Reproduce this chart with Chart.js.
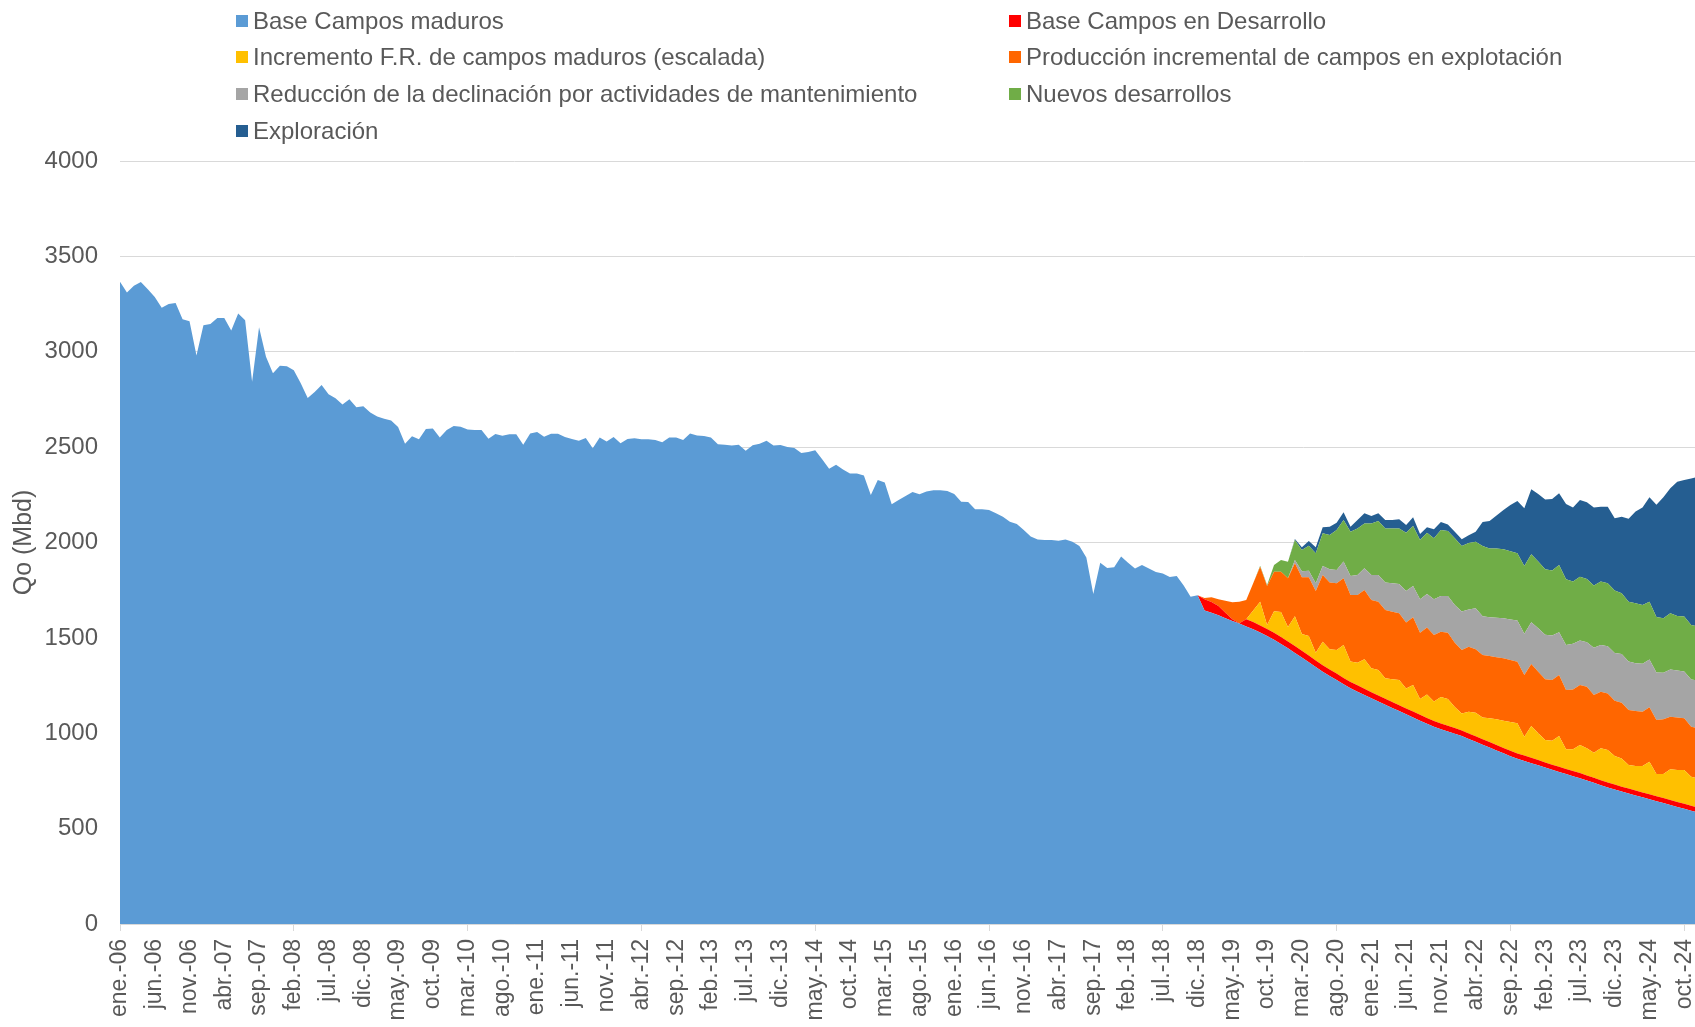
<!DOCTYPE html>
<html lang="es">
<head>
  <meta charset="UTF-8" />
  <title>Pronóstico de producción Qo</title>
  <script src="https://cdn.jsdelivr.net/npm/chart.js"></script>
  <style>
    html, body { margin: 0; padding: 0; background: #fff; overflow: hidden; }
    #wrap { position: relative; width: 1720px; height: 1027px; }
    #leyenda { position: absolute; left: 0; top: 0; }
    .item {
      position: absolute; height: 28px; display: flex; align-items: center;
      font-family: 'Liberation Sans', Arial, sans-serif; font-size: 24px;
      color: #595959; white-space: nowrap;
    }
    .item i { display: inline-block; width: 12px; height: 12px; margin-right: 5px; }
  </style>
</head>
<body>
  <div id="wrap">
    <canvas id="grafico" width="1720" height="1027"></canvas>
    <div id="leyenda"></div>
  </div>

  <script>
    // Meses ene-06 .. dic-24
    const meses = ['ene.', 'feb.', 'mar.', 'abr.', 'may.', 'jun.', 'jul.', 'ago.', 'sep.', 'oct.', 'nov.', 'dic.'];
    const anios = ['06', '07', '08', '09', '10', '11', '12', '13', '14', '15', '16', '17', '18', '19', '20', '21', '22', '23', '24'];
    const etiquetas = [];
    anios.forEach(a => meses.forEach(m => etiquetas.push(m + '-' + a)));

    const ticksY = [0, 500, 1000, 1500, 2000, 2500, 3000, 3500, 4000];

    // Producción real (ene-06 .. dic-18)
    const baseHistorica = [
      3367, 3311, 3346, 3366, 3327, 3287, 3231, 3250, 3256, 3170,
      3160, 2980, 3139, 3146, 3177, 3177, 3112, 3200, 3165, 2843,
      3128, 2974, 2887, 2927, 2924, 2903, 2835, 2757, 2789, 2826,
      2777, 2756, 2723, 2751, 2709, 2714, 2681, 2660, 2649, 2639,
      2605, 2518, 2557, 2541, 2595, 2597, 2551, 2590, 2611, 2607,
      2593, 2590, 2590, 2544, 2569, 2560, 2567, 2567, 2513, 2571,
      2579, 2555, 2570, 2570, 2553, 2543, 2534, 2548, 2494, 2551,
      2530, 2553, 2520, 2543, 2546, 2541, 2541, 2537, 2525, 2550,
      2550, 2537, 2572, 2561, 2558, 2551, 2515, 2513, 2508, 2513,
      2481, 2510, 2518, 2534, 2508, 2511, 2501, 2496, 2469, 2474,
      2483, 2436, 2387, 2407, 2383, 2362, 2362, 2351, 2249, 2328,
      2314, 2201, 2223, 2244, 2265, 2253, 2267, 2274, 2274, 2270,
      2254, 2214, 2212, 2174, 2174, 2170, 2153, 2135, 2109, 2097,
      2066, 2032, 2016, 2013, 2013, 2009, 2016, 2004, 1982, 1922,
      1730, 1894, 1866, 1870, 1926, 1894, 1864, 1882, 1864, 1845,
      1838, 1819, 1824, 1775, 1715, 1723
    ];

    // Base campos maduros pronosticada (ene-19 .. dic-24)
    const baseProyectada = [
      1643, 1632, 1618, 1603, 1589, 1575, 1560, 1545, 1528, 1510,
      1490, 1468, 1445, 1421, 1397, 1372, 1347, 1323, 1300, 1279,
      1257, 1236, 1218, 1200, 1183, 1166, 1149, 1132, 1116, 1099,
      1083, 1066, 1050, 1034, 1021, 1009, 997, 985, 970, 955,
      940, 925, 910, 895, 880, 866, 855, 843, 832, 820,
      808, 797, 786, 775, 764, 752, 740, 728, 716, 705,
      694, 684, 674, 664, 654, 644, 634, 624, 614, 604,
      594, 584
    ];

    // Series de pronóstico a partir de dic-18
    const inicioPronostico = 155;

    const desarrollo = [
      0, 59, 56, 49, 29, 8, 2,
      38, 38, 37, 37, 37, 36, 36, 36, 35, 35,
      35, 34, 34, 34, 33, 33, 33, 33, 32, 32,
      32, 32, 31, 31, 31, 31, 30, 30, 30, 30,
      30, 29, 29, 29, 29, 29, 29, 28, 28, 28,
      28, 28, 28, 27, 27, 27, 27, 27, 27, 27,
      27, 26, 26, 26, 26, 26, 26, 26, 26, 26,
      26, 26, 26, 26, 26, 26
    ];

    const incrementoFR = [
      0, 0, 0, 0, 0, 0, 0,
      0, 61, 125, 20, 113, 131, 76, 156, 88, 103,
      40, 123, 106, 123, 173, 107, 119, 155, 126, 134,
      107, 119, 132, 105, 139, 83, 123, 102, 139, 141,
      110, 90, 114, 124, 114, 124, 134, 143, 151, 158,
      99, 167, 140, 118, 126, 162, 103, 114, 148, 142,
      131, 167, 170, 150, 148, 124, 128, 138, 171, 116,
      126, 161, 167, 177, 152, 153
    ];

    const incremental = [
      0, 7, 25, 35, 62, 90, 112,
      101, 142, 183, 205, 207, 212, 255, 278, 298, 308,
      324, 350, 350, 350, 349, 349, 355, 363, 358, 358,
      358, 354, 350, 345, 355, 347, 352, 349, 342, 347,
      338, 333, 341, 332, 327, 327, 325, 327, 325, 323,
      324, 325, 323, 318, 318, 320, 311, 314, 314, 323,
      303, 297, 297, 290, 292, 288, 289, 285, 285, 284,
      287, 276, 276, 271, 262, 263
    ];

    const mantenimiento = [
      0, 0, 0, 0, 0, 0, 0,
      0, 0, 0, 0, 0, 0, 0, 17, 31, 34,
      40, 47, 70, 70, 88, 100, 105, 114, 131, 140,
      144, 149, 153, 166, 164, 175, 175, 187, 188, 193,
      198, 201, 195, 215, 203, 203, 208, 210, 212, 216,
      215, 219, 228, 233, 233, 224, 236, 239, 233, 233,
      247, 245, 247, 250, 256, 254, 250, 251, 250, 248,
      244, 247, 246, 246, 248, 251
    ];

    const nuevos = [
      0, 0, 0, 0, 0, 0, 0,
      0, 0, 5, 5, 35, 61, 87, 105, 112, 131,
      157, 171, 179, 210, 218, 232, 244, 235, 270, 283,
      284, 288, 292, 305, 314, 311, 321, 320, 346, 340,
      349, 344, 349, 349, 369, 361, 362, 361, 358, 352,
      356, 356, 349, 344, 341, 352, 344, 326, 335, 332,
      326, 332, 330, 327, 318, 314, 314, 309, 304, 291,
      286, 295, 286, 288, 286, 282
    ];

    const exploracion = [
      0, 0, 0, 0, 0, 0, 0,
      0, 0, 0, 0, 0, 0, 0, 5, 14, 25,
      32, 32, 44, 38, 40, 26, 44, 53, 39, 40,
      44, 44, 48, 41, 46, 32, 29, 47, 41, 35,
      35, 35, 40, 53, 125, 144, 173, 206, 243, 275,
      302, 341, 354, 366, 375, 376, 395, 389, 402, 402,
      409, 393, 402, 379, 401, 435, 481, 510, 547, 589,
      634, 655, 704, 716, 768, 786
    ];

    const n = etiquetas.length;
    function completar(serie) {
      const s = new Array(inicioPronostico).fill(0).concat(serie);
      if (s.length !== n) throw new Error('longitud ' + s.length + ' != ' + n);
      return s;
    }
    const base = baseHistorica.concat(baseProyectada);
    if (base.length !== n) throw new Error('base ' + base.length);

    const series = [
      { label: 'Base Campos maduros', data: base, color: '#5B9BD5' },
      { label: 'Base Campos en Desarrollo', data: completar(desarrollo), color: '#FF0000' },
      { label: 'Incremento F.R. de campos maduros (escalada)', data: completar(incrementoFR), color: '#FFC000' },
      { label: 'Producción incremental de campos en explotación', data: completar(incremental), color: '#FF6600' },
      { label: 'Reducción de la declinación por actividades de mantenimiento', data: completar(mantenimiento), color: '#A5A5A5' },
      { label: 'Nuevos desarrollos', data: completar(nuevos), color: '#70AD47' },
      { label: 'Exploración', data: completar(exploracion), color: '#255E91' }
    ];

    Chart.defaults.font.family = "'Liberation Sans', Arial, sans-serif";
    Chart.defaults.color = '#595959';

    const chart = new Chart(document.getElementById('grafico'), {
      type: 'line',
      data: {
        labels: etiquetas,
        datasets: series.map((s, i) => ({
          label: s.label,
          data: s.data,
          backgroundColor: s.color,
          borderWidth: 0,
          pointRadius: 0,
          fill: i === 0 ? 'origin' : '-1'
        }))
      },
      options: {
        responsive: false,
        animation: false,
        layout: { padding: { top: 161, right: 20, left: 0, bottom: 0 } },
        plugins: { legend: { display: false }, tooltip: { enabled: false } },
        scales: {
          x: {
            grid: {
              drawOnChartArea: false,
              tickLength: 7,
              color: c => (c.index % 5 === 0 ? '#D9D9D9' : 'rgba(0,0,0,0)')
            },
            border: { color: '#D9D9D9' },
            ticks: {
              autoSkip: false,
              maxRotation: 90,
              minRotation: 90,
              padding: 8,
              font: { size: 23 },
              callback: (v, i) => (i % 5 === 0 ? etiquetas[i] : null)
            },
            afterFit: s => { s.height = 103; }
          },
          y: {
            stacked: true,
            min: 0,
            max: 4000,
            afterBuildTicks: s => { s.ticks = ticksY.map(v => ({ value: v })); },
            grid: { color: '#D9D9D9', drawTicks: false },
            border: { display: false },
            ticks: { padding: 22, font: { size: 24 }, callback: v => String(v) },
            title: {
              display: true,
              text: 'Qo (Mbd)',
              font: { size: 25 },
              padding: { top: 9, bottom: 0 }
            },
            afterFit: s => { s.width = 120; }
          }
        }
      }
    });

    // Leyenda en dos columnas
    const leyenda = document.getElementById('leyenda');
    chart.data.datasets.forEach((ds, k) => {
      const item = document.createElement('div');
      item.className = 'item';
      item.style.left = (k % 2 ? 1009 : 236) + 'px';
      item.style.top = (20.5 + Math.floor(k / 2) * 36.8 - 14) + 'px';
      item.innerHTML = '<i style="background:' + ds.backgroundColor + '"></i>' + ds.label;
      leyenda.appendChild(item);
    });
  </script>
</body>
</html>
